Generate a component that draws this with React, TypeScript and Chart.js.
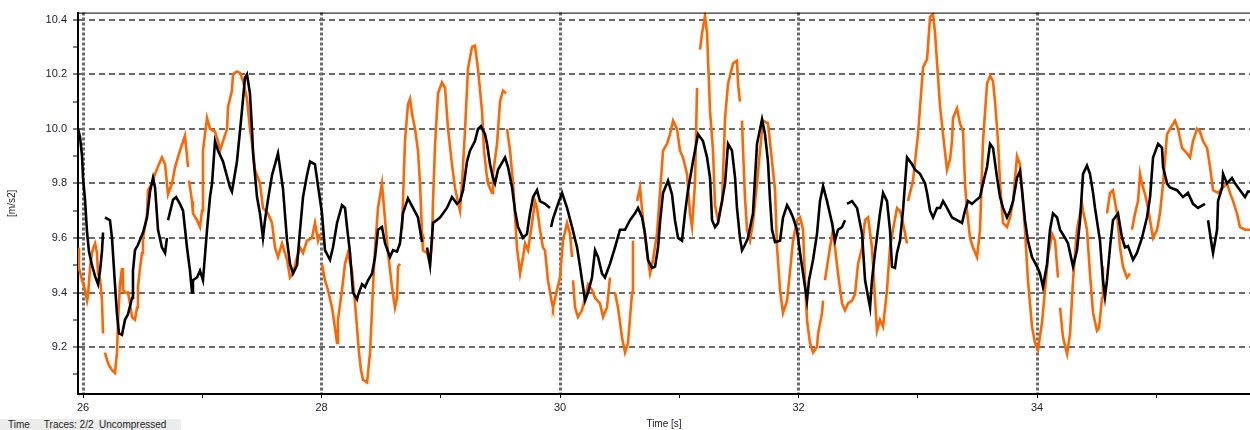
import React, { useEffect, useRef } from "react";
import { Chart, registerables } from "chart.js";

Chart.register(...registerables);

// ---- data (time in s, acceleration in m/s2); null marks a break in the trace ----
const blackTime = [
  25.958, 25.975, 25.992, 26.0, 26.017, 26.034, 26.05, 26.075, 26.101, 26.126, 26.143, 26.159, 26.168, 26.176,
  26.184, 26.226, 26.243, 26.268, 26.285, 26.302, 26.327, 26.352, 26.377, 26.411, 26.419, 26.436, 26.461, 26.503,
  26.537, 26.562, 26.587, 26.604, 26.629, 26.662, 26.688, 26.704, 26.709, 26.713, 26.755, 26.78, 26.813, 26.839,
  26.872, 26.897, 26.914, 26.922, 26.956, 26.981, 27.006, 27.04, 27.065, 27.082, 27.107, 27.132, 27.174, 27.233,
  27.249, 27.291, 27.333, 27.358, 27.375, 27.4, 27.417, 27.426, 27.459, 27.484, 27.509, 27.526, 27.551, 27.585,
  27.635, 27.677, 27.711, 27.736, 27.761, 27.795, 27.82, 27.845, 27.878, 27.904, 27.945, 27.971, 28.004, 28.029,
  28.071, 28.096, 28.13, 28.172, 28.197, 28.214, 28.239, 28.264, 28.298, 28.306, 28.34, 28.365, 28.39, 28.424,
  28.449, 28.474, 28.507, 28.533, 28.574, 28.6, 28.633, 28.658, 28.683, 28.725, 28.767, 28.809, 28.843, 28.864,
  28.885, 28.91, 28.935, 28.994, 29.052, 29.094, 29.136, 29.161, 29.187, 29.22, 29.245, 29.287, 29.312, 29.337,
  29.371, 29.388, 29.413, 29.438, 29.455, 29.48, 29.539, 29.564, 29.598, 29.623, 29.648, 29.69, 29.723, 29.748,
  29.774, 29.807, 29.832, 29.874, 29.916, 29.92, 29.925, 29.941, 29.983, 30.017, 30.059, 30.101, 30.143, 30.168,
  30.193, 30.21, 30.235, 30.268, 30.294, 30.319, 30.352, 30.377, 30.419, 30.461, 30.503, 30.545, 30.587, 30.629,
  30.654, 30.688, 30.713, 30.738, 30.772, 30.797, 30.822, 30.839, 30.864, 30.906, 30.939, 30.964, 30.99, 31.023,
  31.048, 31.073, 31.115, 31.157, 31.199, 31.233, 31.258, 31.275, 31.3, 31.325, 31.359, 31.384, 31.409, 31.442,
  31.468, 31.484, 31.509, 31.526, 31.551, 31.576, 31.618, 31.652, 31.694, 31.719, 31.744, 31.761, 31.778, 31.803,
  31.845, 31.87, 31.904, 31.929, 31.954, 31.987, 32.013, 32.038, 32.071, 32.088, 32.122, 32.155, 32.18, 32.206,
  32.239, 32.281, 32.306, 32.331, 32.365, 32.39, 32.398, 32.407, 32.449, 32.491, 32.533, 32.558, 32.583, 32.6,
  32.616, 32.641, 32.683, 32.709, 32.742, 32.767, 32.784, 32.809, 32.826, 32.851, 32.876, 32.91, 32.952, 32.977,
  33.019, 33.061, 33.078, 33.103, 33.128, 33.161, 33.187, 33.212, 33.245, 33.287, 33.329, 33.371, 33.396, 33.421,
  33.455, 33.48, 33.522, 33.547, 33.581, 33.606, 33.631, 33.665, 33.69, 33.715, 33.748, 33.774, 33.799, 33.832,
  33.857, 33.874, 33.899, 33.924, 33.958, 34.0, 34.025, 34.05, 34.084, 34.109, 34.134, 34.168, 34.193, 34.235,
  34.26, 34.302, 34.335, 34.361, 34.386, 34.419, 34.444, 34.47, 34.486, 34.528, 34.553, 34.57, 34.587, 34.612,
  34.637, 34.679, 34.713, 34.738, 34.763, 34.805, 34.838, 34.88, 34.922, 34.948, 34.973, 35.015, 35.048, 35.057,
  35.09, 35.115, 35.174, 35.224, 35.266, 35.308, 35.35, 35.409, 35.42, 35.434, 35.468, 35.476, 35.51, 35.518,
  35.552, 35.56, 35.593, 35.635, 35.66, 35.702, 35.744, 35.769, 35.786,
];
const blackValue = [
  10.0, 9.97, 9.9, 9.82, 9.74, 9.62, 9.55, 9.5, 9.46, 9.43, 9.48, 9.55, 9.62, null,
  9.675, 9.665, 9.6, 9.43, 9.32, 9.25, 9.245, 9.3, 9.32, 9.38, 9.48, 9.555, 9.575, 9.62,
  9.675, 9.77, 9.82, 9.785, 9.63, 9.565, 9.545, 9.6, null, 9.665, 9.74, 9.75, 9.725, 9.7,
  9.565, 9.48, 9.4, 9.445, 9.455, 9.48, 9.445, 9.63, 9.75, 9.8, 9.955, 9.92, 9.88, 9.785,
  9.77, 9.88, 10.067, 10.187, 10.2, 10.13, 10.0, 9.91, 9.75, 9.69, 9.6, 9.665, 9.74, 9.83,
  9.91, 9.78, 9.59, 9.505, 9.47, 9.5, 9.63, 9.75, 9.83, 9.88, 9.87, 9.79, 9.69, 9.555,
  9.52, 9.565, 9.655, 9.72, 9.71, 9.64, 9.545, 9.4, 9.375, 9.39, 9.43, 9.42, 9.445, 9.47,
  9.53, 9.63, 9.64, 9.58, 9.53, 9.555, 9.55, 9.58, 9.69, 9.745, 9.71, 9.675, 9.585, null,
  9.565, 9.5, 9.655, 9.675, 9.71, 9.75, 9.725, 9.735, 9.775, 9.88, 9.92, 9.955, 10.0, 10.01,
  9.98, 9.945, 9.87, 9.82, 9.8, 9.85, 9.895, 9.86, 9.785, 9.7, 9.64, 9.6, 9.615, 9.69,
  9.75, 9.775, 9.735, 9.725, 9.71, null, 9.64, 9.67, 9.725, 9.765, 9.71, 9.64, 9.565, 9.495,
  9.42, 9.37, 9.4, 9.455, 9.555, 9.53, 9.47, 9.455, 9.505, 9.565, 9.63, 9.63, 9.665, 9.69,
  9.71, 9.675, 9.615, 9.52, 9.49, 9.495, 9.565, 9.66, 9.765, 9.81, 9.76, 9.665, 9.6, 9.59,
  9.69, 9.775, 9.88, 9.98, 9.955, 9.895, 9.82, 9.665, 9.64, 9.655, 9.735, 9.8, 9.945, 9.92,
  9.82, 9.71, 9.6, 9.555, 9.575, 9.6, 9.69, 9.945, 10.035, 9.98, 9.88, 9.74, 9.63, 9.585,
  9.59, 9.675, 9.72, 9.7, 9.675, 9.63, 9.545, 9.47, 9.37, 9.445, 9.52, 9.615, 9.735, 9.79,
  9.735, 9.655, 9.59, 9.63, 9.64, 9.665, null, 9.725, 9.735, 9.71, 9.615, 9.445, 9.385, 9.345,
  9.445, 9.545, 9.69, 9.765, 9.735, 9.63, 9.495, 9.49, 9.545, 9.59, 9.7, 9.895, 9.87, 9.85,
  9.835, 9.8, 9.765, 9.7, 9.675, 9.71, 9.71, 9.735, 9.71, 9.675, 9.665, 9.655, 9.7, 9.735,
  9.725, 9.735, 9.75, 9.8, 9.86, 9.945, 9.93, 9.82, 9.75, 9.71, 9.675, 9.7, 9.735, 9.82,
  9.845, 9.775, 9.665, 9.59, 9.53, 9.495, 9.47, 9.42, 9.505, 9.63, 9.69, 9.675, 9.63, 9.6,
  9.58, 9.495, 9.555, 9.665, 9.835, 9.865, 9.835, 9.765, 9.71, 9.59, 9.445, 9.385, 9.445, 9.565,
  9.665, 9.69, 9.6, 9.565, 9.57, 9.52, 9.545, 9.6, 9.675, 9.75, 9.895, 9.945, 9.93, 9.86,
  9.8, 9.785, 9.775, 9.75, 9.765, 9.725, 9.71, 9.725, null, 9.665, 9.565, 9.545, 9.63, 9.735,
  9.785, 9.835, 9.8, 9.82, 9.8, 9.775, 9.75, 9.77, 9.77,
];

const orangeTime = [
  25.958, 25.966, 25.992, 26.017, 26.034, 26.042, 26.059, 26.075, 26.084, 26.101, 26.117, 26.126, 26.143, 26.159,
  26.168, 26.176, 26.184, 26.21, 26.243, 26.268, 26.285, 26.294, 26.31, 26.327, 26.335, 26.352, 26.377, 26.394,
  26.411, 26.436, 26.453, 26.461, 26.478, 26.495, 26.503, 26.52, 26.537, 26.545, 26.579, 26.604, 26.646, 26.662,
  26.688, 26.713, 26.746, 26.772, 26.813, 26.855, 26.881, 26.885, 26.889, 26.914, 26.922, 26.956, 26.981, 26.998,
  27.006, 27.04, 27.065, 27.107, 27.132, 27.149, 27.174, 27.208, 27.216, 27.249, 27.258, 27.291, 27.317, 27.342,
  27.375, 27.4, 27.426, 27.442, 27.467, 27.484, 27.509, 27.551, 27.585, 27.61, 27.635, 27.669, 27.711, 27.736,
  27.761, 27.795, 27.82, 27.845, 27.878, 27.92, 27.945, 27.971, 27.987, 27.995, 28.004, 28.029, 28.054, 28.088,
  28.113, 28.13, 28.138, 28.172, 28.197, 28.222, 28.256, 28.281, 28.298, 28.314, 28.331, 28.348, 28.382, 28.407,
  28.432, 28.449, 28.474, 28.507, 28.533, 28.558, 28.591, 28.616, 28.633, 28.642, 28.658, 28.667, 28.675, 28.7,
  28.725, 28.742, 28.759, 28.784, 28.809, 28.826, 28.843, 28.851, 28.885, 28.91, 28.927, 28.935, 28.952, 28.977,
  29.01, 29.036, 29.061, 29.094, 29.119, 29.145, 29.161, 29.178, 29.203, 29.228, 29.262, 29.287, 29.312, 29.346,
  29.363, 29.388, 29.396, 29.43, 29.438, 29.472, 29.497, 29.522, 29.547, 29.551, 29.556, 29.581, 29.606, 29.639,
  29.665, 29.69, 29.707, 29.732, 29.765, 29.79, 29.807, 29.832, 29.857, 29.874, 29.899, 29.933, 29.941, 29.975,
  30.0, 30.025, 30.059, 30.084, 30.101, 30.105, 30.109, 30.126, 30.151, 30.184, 30.21, 30.235, 30.268, 30.294,
  30.335, 30.361, 30.394, 30.419, 30.44, 30.461, 30.486, 30.52, 30.545, 30.57, 30.604, 30.612, 30.63, 30.646,
  30.671, 30.696, 30.73, 30.755, 30.78, 30.813, 30.839, 30.864, 30.897, 30.922, 30.948, 30.981, 31.006, 31.031,
  31.065, 31.09, 31.107, 31.132, 31.149, 31.16, 31.174, 31.191, 31.216, 31.233, 31.258, 31.283, 31.3, 31.325,
  31.359, 31.384, 31.409, 31.451, 31.484, 31.493, 31.509, 31.518, 31.526, 31.535, 31.551, 31.568, 31.593, 31.618,
  31.652, 31.677, 31.702, 31.744, 31.778, 31.803, 31.82, 31.845, 31.87, 31.904, 31.929, 31.954, 31.987, 32.013,
  32.038, 32.054, 32.071, 32.096, 32.122, 32.155, 32.164, 32.197, 32.206, 32.214, 32.222, 32.239, 32.264, 32.289,
  32.306, 32.331, 32.365, 32.39, 32.415, 32.449, 32.474, 32.499, 32.533, 32.558, 32.583, 32.616, 32.641, 32.658,
  32.683, 32.709, 32.742, 32.767, 32.792, 32.826, 32.851, 32.876, 32.91, 32.914, 32.918, 32.96, 33.002, 33.044,
  33.078, 33.103, 33.128, 33.145, 33.187, 33.212, 33.245, 33.271, 33.287, 33.296, 33.329, 33.354, 33.38, 33.396,
  33.413, 33.438, 33.463, 33.497, 33.522, 33.547, 33.581, 33.606, 33.631, 33.648, 33.673, 33.69, 33.715, 33.748,
  33.774, 33.799, 33.832, 33.857, 33.874, 33.899, 33.924, 33.958, 33.983, 34.008, 34.042, 34.067, 34.092, 34.126,
  34.151, 34.176, 34.185, 34.193, 34.218, 34.252, 34.277, 34.302, 34.335, 34.361, 34.377, 34.386, 34.419, 34.444,
  34.47, 34.503, 34.52, 34.545, 34.553, 34.57, 34.587, 34.612, 34.637, 34.671, 34.696, 34.721, 34.754, 34.78,
  34.788, 34.796, 34.822, 34.847, 34.864, 34.88, 34.906, 34.931, 34.973, 35.006, 35.031, 35.057, 35.09, 35.115,
  35.157, 35.182, 35.216, 35.258, 35.283, 35.308, 35.342, 35.367, 35.392, 35.426, 35.451, 35.476, 35.518, 35.56,
  35.593, 35.618, 35.644, 35.677, 35.702, 35.744, 35.786,
];
const orangeValue = [
  9.565, 9.49, 9.445, 9.41, 9.37, 9.39, 9.49, 9.545, 9.56, 9.58, 9.545, 9.47, 9.45, 9.37,
  9.25, null, 9.18, 9.14, 9.115, 9.105, 9.18, 9.3, 9.43, 9.49, 9.41, 9.4, 9.4, 9.36,
  9.31, 9.3, 9.345, 9.42, 9.49, 9.545, 9.6, 9.64, 9.69, 9.775, 9.8, 9.835, 9.88, 9.895,
  9.87, 9.76, 9.8, 9.86, 9.92, 9.975, 9.86, null, 9.81, 9.735, 9.69, 9.665, 9.64, 9.7,
  9.92, 10.04, 10.0, 9.99, 9.955, 9.92, 9.955, 10.0, 10.08, 10.14, 10.2, 10.21, 10.205, 10.175,
  10.11, 10.0, 9.92, 9.85, 9.82, 9.8, 9.71, 9.69, 9.655, 9.565, 9.53, 9.58, 9.52, 9.455,
  9.47, 9.53, 9.565, 9.545, 9.59, 9.6, 9.655, 9.59, 9.615, null, 9.505, 9.445, 9.41, 9.345,
  9.27, 9.215, 9.3, 9.41, 9.505, 9.545, 9.48, 9.36, 9.27, 9.18, 9.115, 9.08, 9.07, 9.18,
  9.42, 9.565, 9.71, 9.8, 9.665, 9.545, 9.42, 9.345, 9.38, 9.495, 9.505, null, 9.63, 9.955,
  10.09, 10.11, 10.055, 10.0, 9.92, 9.8, 9.615, 9.555, 9.545, 9.505, 9.59, 9.735, 9.94, 10.13,
  10.17, 10.15, 10.0, 9.87, 9.785, 9.73, 9.7, 9.8, 9.99, 10.22, 10.3, 10.305, 10.22, 10.065,
  9.92, 9.82, 9.8, 9.765, 9.835, 9.945, 10.1, 10.14, 10.13, null, 10.0, 9.92, 9.8, 9.565,
  9.47, 9.53, 9.58, 9.555, 9.655, 9.735, 9.71, 9.63, 9.565, 9.555, 9.445, 9.36, 9.345, 9.41,
  9.455, 9.59, 9.655, 9.615, 9.53, null, 9.445, 9.345, 9.31, 9.335, 9.38, 9.43, 9.41, 9.38,
  9.36, 9.31, 9.345, 9.455, null, 9.4, 9.345, 9.235, 9.18, 9.215, 9.4, 9.59, null, 9.735,
  9.785, 9.665, 9.545, 9.47, 9.52, 9.615, 9.77, 9.92, 9.945, 9.98, 10.03, 10.0, 9.92, 9.895,
  9.835, 9.69, 9.64, 9.8, 10.15, null, 10.29, 10.35, 10.415, 10.35, 10.065, 9.92, 9.72, 9.665,
  9.735, 10.04, 10.165, 10.24, 10.25, 10.165, 10.1, null, 10.03, 9.92, 9.75, 9.63, 9.59, 9.655,
  9.8, 9.92, 10.03, 10.02, 9.88, 9.775, 9.565, 9.41, 9.325, 9.37, 9.48, 9.59, 9.665, 9.675,
  9.63, 9.445, 9.3, 9.215, 9.18, 9.2, 9.25, 9.325, 9.37, null, 9.445, 9.495, 9.565, 9.63,
  9.565, 9.47, 9.36, 9.335, 9.36, 9.37, 9.395, 9.505, 9.565, 9.665, 9.675, 9.565, 9.38, 9.26,
  9.3, 9.275, 9.41, 9.565, 9.63, 9.71, 9.7, 9.655, 9.58, null, 9.735, 9.81, 9.98, 10.225,
  10.255, 10.41, 10.42, 10.35, 10.08, 9.98, 9.85, 9.89, 9.955, 10.04, 10.075, 10.02, 9.99, 9.8,
  9.7, 9.6, 9.565, 9.53, 9.63, 9.955, 10.165, 10.195, 10.175, 10.1, 9.955, 9.8, 9.655, 9.64,
  9.675, 9.735, 9.9, 9.87, 9.78, 9.63, 9.445, 9.275, 9.215, 9.19, 9.29, 9.41, 9.53, 9.615,
  9.59, 9.455, null, 9.345, 9.235, 9.175, 9.25, 9.445, 9.63, 9.69, 9.725, 9.7, 9.63, 9.47,
  9.325, 9.26, 9.27, 9.38, 9.495, null, 9.69, 9.765, 9.775, 9.69, 9.565, 9.495, 9.455, 9.47,
  null, 9.63, 9.69, 9.735, 9.835, 9.8, 9.76, 9.71, 9.6, 9.63, 9.69, 9.8, 9.98, 10.0,
  10.03, 10.0, 9.93, 9.91, 9.895, 9.955, 10.0, 9.99, 9.955, 9.93, 9.86, 9.775, 9.765, 9.785,
  9.8, 9.765, 9.735, 9.69, 9.64, 9.63, 9.63,
];

const xTickValues = [26, 27, 28, 29, 30, 31, 32, 33, 34, 35];
const xLabelledTicks = [26, 28, 30, 32, 34];
const yTickValues = [9.1, 9.2, 9.3, 9.4, 9.5, 9.6, 9.7, 9.8, 9.9, 10.0, 10.1, 10.2, 10.3, 10.4];
const yLabelledTicks = [9.2, 9.4, 9.6, 9.8, 10.0, 10.2, 10.4];
const xRange = [25.958, 35.786];
const yRange = [9.028, 10.426];

const inList = (list: number[], v: number) => list.some((t) => Math.abs(t - v) < 1e-6);
const FONT = "'Liberation Sans', Arial, sans-serif";

export default function App() {
  const canvasRef = useRef<HTMLCanvasElement>(null);

  useEffect(() => {
    document.body.style.margin = "0";
    const toPoints = (ts: number[], vs: (number | null)[]) => ts.map((t, i) => ({ x: t, y: vs[i] }));

    const topFrame = {
      id: "topFrame",
      afterDraw(chart: any) {
        const { ctx, chartArea } = chart;
        ctx.save();
        ctx.strokeStyle = "#000";
        ctx.lineWidth = 1;
        ctx.beginPath();
        ctx.moveTo(chartArea.left, chartArea.top + 0.5);
        ctx.lineTo(chartArea.right, chartArea.top + 0.5);
        ctx.stroke();
        ctx.restore();
      },
    };

    const chart = new Chart(canvasRef.current as HTMLCanvasElement, {
      type: "line",
      data: {
        datasets: [
          {
            label: "Trace 1",
            data: toPoints(blackTime, blackValue) as any,
            borderColor: "#000000",
            borderWidth: 2.6,
            pointRadius: 0,
            tension: 0,
            spanGaps: false,
          },
          {
            label: "Trace 2",
            data: toPoints(orangeTime, orangeValue) as any,
            borderColor: "#ff6600",
            borderWidth: 2.6,
            pointRadius: 0,
            tension: 0,
            spanGaps: false,
          },
        ],
      },
      options: {
        animation: false,
        responsive: true,
        maintainAspectRatio: false,
        layout: { padding: { top: 12, left: 0, right: 0, bottom: 0 } },
        plugins: { legend: { display: false }, tooltip: { enabled: false } },
        events: [],
        scales: {
          x: {
            type: "linear",
            min: xRange[0],
            max: xRange[1],
            afterBuildTicks: (s: any) => {
              s.ticks = xTickValues.map((v) => ({ value: v }));
            },
            afterFit: (s: any) => {
              s.height = 36;
            },
            ticks: {
              autoSkip: false,
              maxRotation: 0,
              padding: 3,
              color: "#222233",
              font: { family: FONT, size: 11 },
              callback: (v: any) => (inList(xLabelledTicks, Number(v)) ? String(v) : ""),
            },
            grid: {
              color: (c: any) => (inList(xLabelledTicks, c.tick?.value) ? "#6a6a6a" : "rgba(0,0,0,0)"),
              lineWidth: 3,
              drawTicks: true,
              tickLength: 4,
              tickColor: "#000",
              tickWidth: 1,
            },
            border: { display: true, color: "#000", width: 2, dash: [3, 2] },
            title: {
              display: true,
              text: "Time [s]",
              color: "#222233",
              font: { family: FONT, size: 10 },
              padding: { top: 0, bottom: 0 },
            },
          },
          y: {
            type: "linear",
            min: yRange[0],
            max: yRange[1],
            afterBuildTicks: (s: any) => {
              s.ticks = yTickValues.map((v) => ({ value: v }));
            },
            afterFit: (s: any) => {
              s.width = 78;
            },
            ticks: {
              autoSkip: false,
              padding: 6,
              color: "#222233",
              font: { family: FONT, size: 11 },
              callback: (v: any) => (inList(yLabelledTicks, Number(v)) ? Number(v).toFixed(1) : ""),
            },
            grid: {
              color: (c: any) => (inList(yLabelledTicks, c.tick?.value) ? "#6a6a6a" : "rgba(0,0,0,0)"),
              lineWidth: 2,
              drawTicks: true,
              tickLength: 5,
              tickColor: "#000",
              tickWidth: 1,
            },
            border: { display: true, color: "#000", width: 2, dash: [6, 4] },
            title: {
              display: true,
              text: "[m/s2]",
              color: "#222233",
              font: { family: FONT, size: 10 },
              padding: { top: 6, bottom: 0 },
            },
          },
        },
      },
      plugins: [topFrame],
    } as any);

    return () => chart.destroy();
  }, []);

  return (
    <div style={{ position: "relative", width: 1250, height: 430, overflow: "hidden" }}>
      <canvas ref={canvasRef} />
      <div
        style={{
          position: "absolute",
          left: 0,
          top: 419,
          width: 181,
          height: 11,
          background: "#ececec",
          fontFamily: FONT,
          fontSize: 10,
          lineHeight: "11px",
          color: "#222",
          whiteSpace: "pre",
        }}
      >
        <span style={{ marginLeft: 8 }}>Time</span>
        <span style={{ marginLeft: 14 }}>Traces: 2/2  Uncompressed</span>
      </div>
    </div>
  );
}
